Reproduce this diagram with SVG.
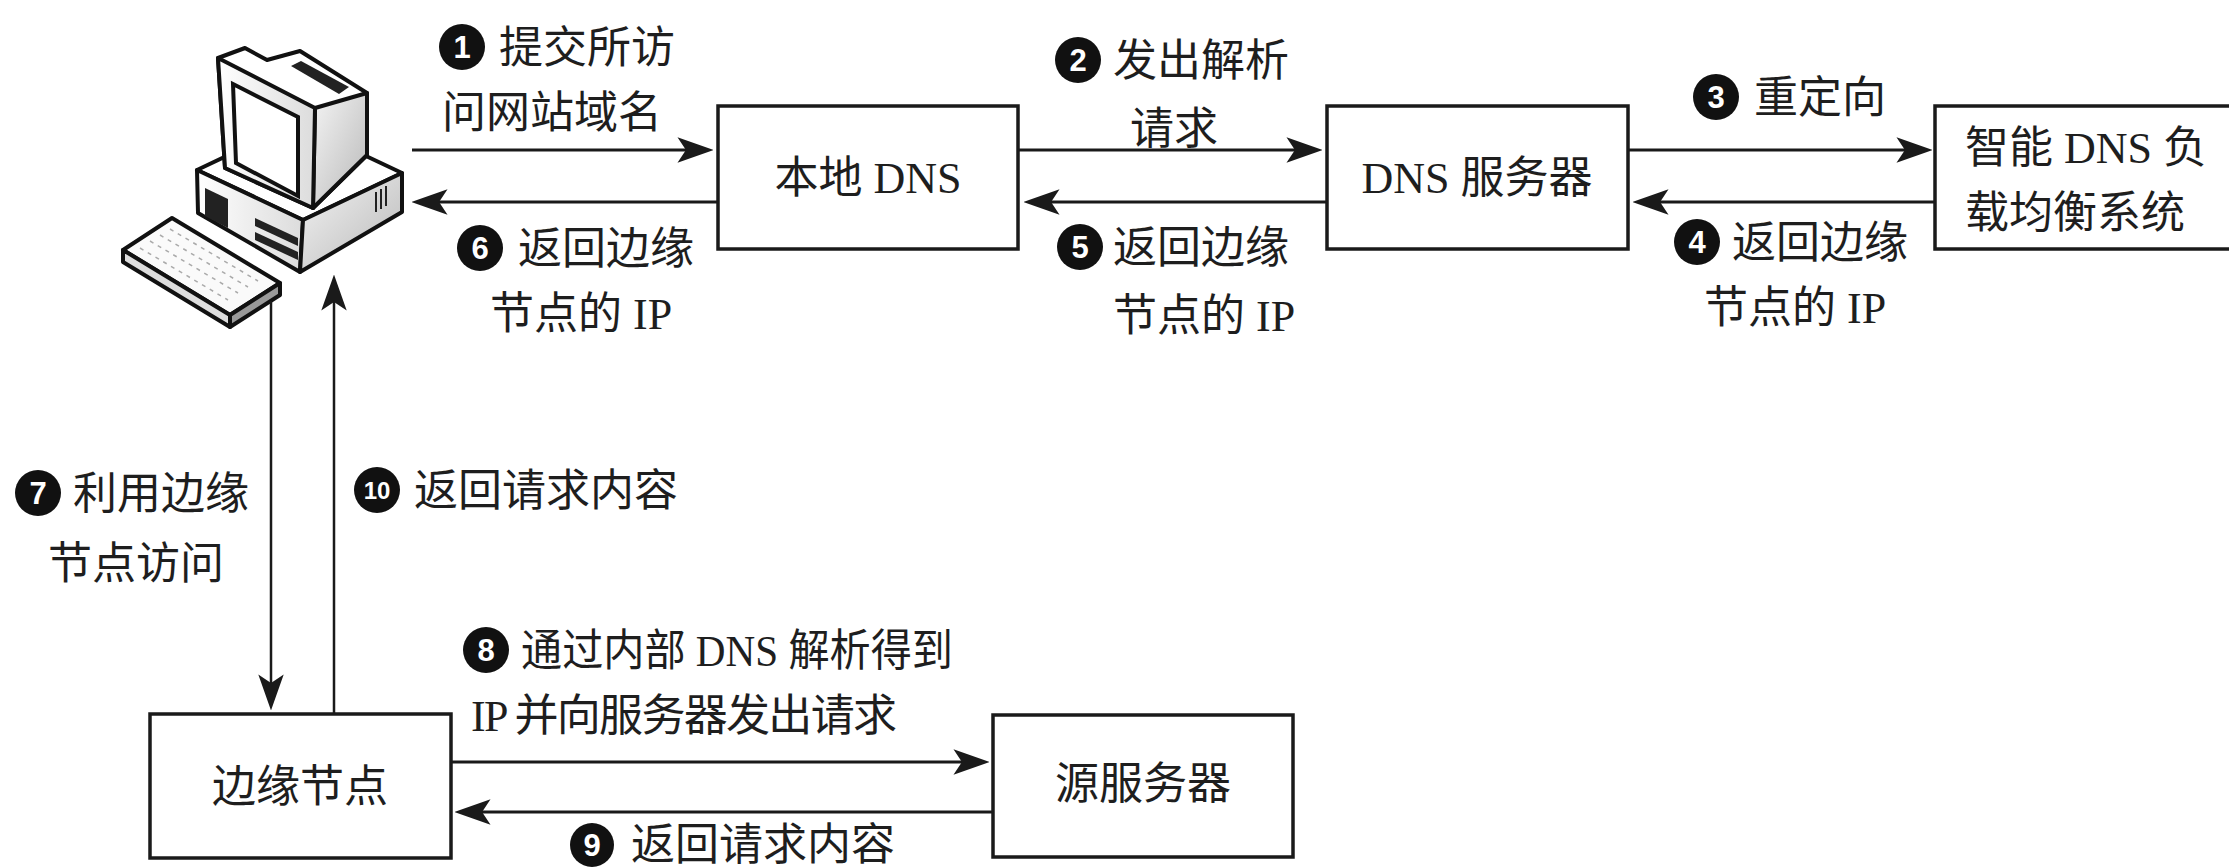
<svg xmlns="http://www.w3.org/2000/svg" width="2229" height="868" viewBox="0 0 2229 868">
  <defs>
    <style>
      .box { fill: #fff; stroke: #1a1a1a; stroke-width: 3.5; }
      .t { font-family: "Liberation Serif", "Noto Sans CJK SC", serif; font-size: 44px; fill: #1e1e1e; }
      .mid { text-anchor: middle; }
      .num circle { fill: #111; }
      .num text { font-family: "Liberation Sans", "DejaVu Sans", sans-serif; font-size: 31px; font-weight: bold; fill: #fff; text-anchor: middle; }
      .conn line { stroke: #1a1a1a; stroke-width: 3; fill: none; marker-end: url(#arrow); }
      .conn line.v { stroke-width: 2.5; }
      .pc { stroke: #111; stroke-width: 4; stroke-linejoin: round; }
      .keys { stroke: #aaa; stroke-width: 1.5; stroke-dasharray: 4 5; fill: none; }
    </style>
    <marker id="arrow" markerUnits="userSpaceOnUse" markerWidth="36" markerHeight="26" viewBox="0 0 34 24" refX="26" refY="12" orient="auto">
      <path d="M34 12 L0 0 L8 12 L0 24 Z" fill="#1a1a1a"/>
    </marker>
    <linearGradient id="side" x1="0" y1="0" x2="1" y2="1">
      <stop offset="0" stop-color="#f4f4f4"/>
      <stop offset="1" stop-color="#b8b8b8"/>
    </linearGradient>
    <linearGradient id="front" x1="0" y1="0" x2="1" y2="0">
      <stop offset="0" stop-color="#ffffff"/>
      <stop offset="1" stop-color="#dcdcdc"/>
    </linearGradient>
  </defs>

  <rect width="2229" height="868" fill="#fff"/>

  <!-- client computer -->
  <g id="client">
    <!-- system unit -->
    <polygon class="pc" points="197,170 296,123 402,173 303,220" fill="#fff"/>
    <polygon class="pc" points="197,170 303,220 300,272 198,213" fill="url(#front)"/>
    <polygon class="pc" points="303,220 402,173 402,212 300,272" fill="url(#side)"/>
    <polygon points="205,188 228,199 228,228 205,216" fill="#222"/>
    <polygon points="255,218 298,238 298,246 255,226" fill="#222"/>
    <polygon points="255,232 298,252 298,260 255,240" fill="#222"/>
    <line x1="376" y1="192" x2="376" y2="212" stroke="#222" stroke-width="2"/>
    <line x1="381" y1="189" x2="381" y2="209" stroke="#222" stroke-width="2"/>
    <line x1="386" y1="186" x2="386" y2="206" stroke="#222" stroke-width="2"/>
    <!-- monitor -->
    <polygon class="pc" points="218,58 245,48 267,60 300,51 367,93 367,155 313,208 225,168" fill="#fff"/>
    <polygon class="pc" points="315,108 367,93 367,155 313,208" fill="url(#side)"/>
    <polygon class="pc" points="218,58 315,108 313,208 225,168" fill="url(#front)"/>
    <polygon points="291,66 301,61 349,87 339,94" fill="#222"/>
    <polygon points="233,84 298,117 298,196 236,163" fill="#fff" stroke="#111" stroke-width="4"/>
    <!-- keyboard -->
    <polygon class="pc" points="123,250 172,218 280,283 230,315" fill="#fafafa"/>
    <polygon class="pc" points="123,250 230,315 230,327 123,262" fill="#ddd"/>
    <polygon class="pc" points="230,315 280,283 280,295 230,327" fill="#999"/>
    <path class="keys" d="M140 248 L228 300 M150 241 L238 293 M160 235 L248 287 M170 229 L258 281"/>
  </g>

  <!-- DNS side -->
  <g id="local-dns">
    <rect class="box" x="718" y="106" width="300" height="143"/>
    <text class="t mid" x="868" y="193">本地 DNS</text>
  </g>
  <g id="dns-server">
    <rect class="box" x="1327" y="106" width="301" height="143"/>
    <text class="t mid" x="1477" y="193">DNS 服务器</text>
  </g>
  <g id="smart-dns">
    <rect class="box" x="1935" y="106" width="320" height="143"/>
    <text class="t" x="1965" y="163">智能 DNS 负</text>
    <text class="t" x="1965" y="228">载均衡系统</text>
  </g>

  <!-- CDN side -->
  <g id="edge-node">
    <rect class="box" x="150" y="714" width="301" height="144"/>
    <text class="t mid" x="300" y="802">边缘节点</text>
  </g>
  <g id="origin-server">
    <rect class="box" x="993" y="715" width="300" height="142"/>
    <text class="t mid" x="1143" y="799">源服务器</text>
  </g>

  <!-- connectors -->
  <g id="connectors" class="conn">
    <line x1="412" y1="150" x2="705" y2="150"/>
    <line x1="718" y1="202" x2="420" y2="202"/>
    <line x1="1018" y1="150" x2="1314" y2="150"/>
    <line x1="1327" y1="202" x2="1032" y2="202"/>
    <line x1="1628" y1="150" x2="1924" y2="150"/>
    <line x1="1935" y1="202" x2="1641" y2="202"/>
    <line class="v" x1="271" y1="301" x2="271" y2="702"/>
    <line class="v" x1="334" y1="714" x2="334" y2="283"/>
    <line x1="451" y1="762" x2="981" y2="762"/>
    <line x1="993" y1="812" x2="463" y2="812"/>
  </g>

  <!-- numbered step labels -->
  <g id="step-labels">
    <g class="num"><circle cx="462" cy="47" r="23"/><text x="462" y="58">1</text></g>
    <text class="t" x="499" y="63">提交所访</text>
    <text class="t" x="442" y="128">问网站域名</text>

    <g class="num"><circle cx="1078" cy="60" r="23"/><text x="1078" y="71">2</text></g>
    <text class="t" x="1113" y="76">发出解析</text>
    <text class="t" x="1130" y="144">请求</text>

    <g class="num"><circle cx="1716" cy="97" r="23"/><text x="1716" y="108">3</text></g>
    <text class="t" x="1754" y="113">重定向</text>

    <g class="num"><circle cx="1697" cy="242" r="23"/><text x="1697" y="253">4</text></g>
    <text class="t" x="1732" y="258">返回边缘</text>
    <text class="t" x="1704" y="323">节点的 IP</text>

    <g class="num"><circle cx="1080" cy="247" r="23"/><text x="1080" y="258">5</text></g>
    <text class="t" x="1113" y="263">返回边缘</text>
    <text class="t" x="1113" y="331">节点的 IP</text>

    <g class="num"><circle cx="480" cy="248" r="23"/><text x="480" y="259">6</text></g>
    <text class="t" x="518" y="264">返回边缘</text>
    <text class="t" x="490" y="329">节点的 IP</text>

    <g class="num"><circle cx="38" cy="493" r="23"/><text x="38" y="504">7</text></g>
    <text class="t" x="73" y="509">利用边缘</text>
    <text class="t" x="48" y="579">节点访问</text>

    <g class="num"><circle cx="377" cy="490" r="23"/><text x="377" y="499" style="font-size:24px">10</text></g>
    <text class="t" x="414" y="506">返回请求内容</text>

    <g class="num"><circle cx="486" cy="650" r="23"/><text x="486" y="661">8</text></g>
    <text class="t" x="521" y="666" textLength="432" lengthAdjust="spacingAndGlyphs">通过内部 DNS 解析得到</text>
    <text class="t" x="471" y="731" textLength="426" lengthAdjust="spacing">IP 并向服务器发出请求</text>

    <g class="num"><circle cx="592" cy="845" r="22"/><text x="592" y="856">9</text></g>
    <text class="t" x="631" y="860">返回请求内容</text>
  </g>
</svg>
